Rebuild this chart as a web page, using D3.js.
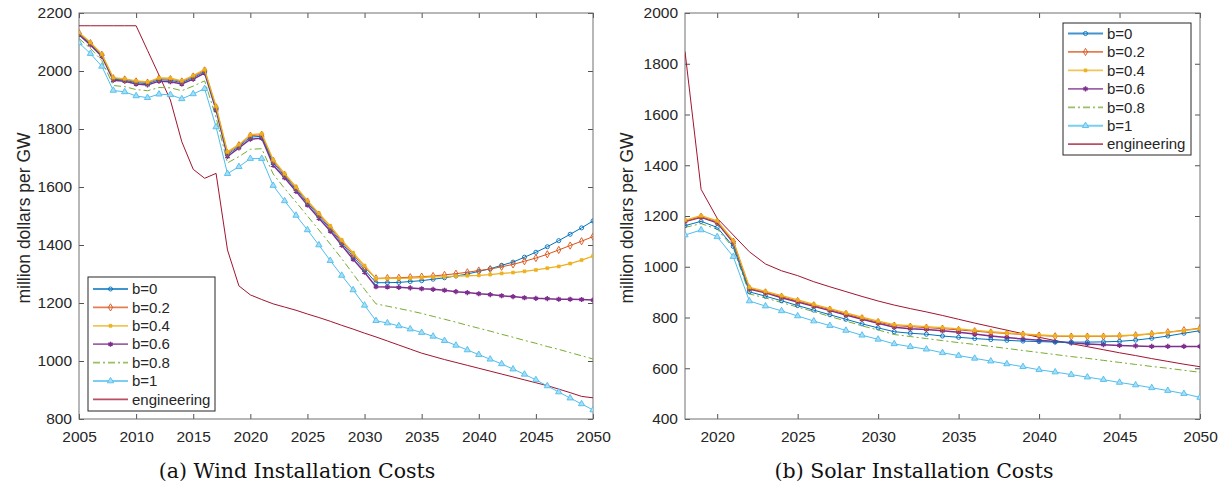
<!DOCTYPE html>
<html><head><meta charset="utf-8">
<script src="https://cdn.jsdelivr.net/npm/d3@7"></script>
<style>
body{margin:0;background:#fff;}
svg{display:block;}
.tick text{font-family:"Liberation Sans",Arial,sans-serif;font-size:15.5px;fill:#262626;}
</style></head><body>
<svg id="c" width="1229" height="491"></svg>
<script>
// ---------- DATA ----------
const seriesNames = ["b=0","b=0.2","b=0.4","b=0.6","b=0.8","b=1","engineering"];
const seriesColors = ["#0072BD","#D95319","#EDB120","#7E2F8E","#77AC30","#4DBEEE","#A2142F"];
const seriesMarkers = ["circle","diamond","square","asterisk","none","triangle","none"];

const windStart = 2005, windEnd = 2050;
const windXTicks = [2005,2010,2015,2020,2025,2030,2035,2040,2045,2050];
const windYTicks = [800,1000,1200,1400,1600,1800,2000,2200];

const windB0 = [2128,2094,2054,1972,1968,1960,1956,1970,1968,1960,1977,1998,1870,1712,1740,1772,1775,1684,1638,1592,1545,1500,1455,1407,1360,1315,
  1270,1270,1271,1274,1277,1282,1287,1293,1300,1309,1318,1330,1341,1358,1375,1394,1415,1437,1459,1483];
const windB02 = [2131,2096,2056,1975,1971,1964,1960,1974,1972,1964,1981,2002,1875,1717,1744,1777,1780,1690,1642,1596,1550,1505,1460,1412,1367,1322,
  1285,1286,1287,1289,1291,1293,1297,1301,1306,1312,1317,1325,1333,1344,1355,1368,1383,1398,1413,1429];
const windB04 = [2133,2098,2058,1977,1973,1966,1962,1976,1975,1966,1984,2005,1878,1721,1746,1780,1784,1694,1646,1600,1553,1509,1466,1417,1373,1329,
  1284,1285,1285,1286,1288,1290,1291,1293,1294,1295,1298,1302,1305,1309,1314,1320,1326,1336,1348,1362];
const windB06 = [2125,2090,2050,1968,1965,1955,1952,1965,1963,1955,1972,1993,1865,1705,1735,1765,1768,1675,1632,1585,1538,1492,1448,1399,1351,1306,
  1256,1255,1254,1252,1249,1247,1244,1239,1236,1232,1229,1225,1222,1218,1216,1215,1213,1213,1212,1210];
const windB08 = [2112,2078,2036,1950,1946,1936,1932,1943,1942,1932,1948,1966,1840,1683,1705,1730,1732,1645,1595,1548,1500,1452,1403,1353,1300,1247,
  1197,1189,1181,1173,1164,1154,1144,1134,1123,1113,1103,1092,1082,1071,1061,1050,1040,1029,1018,1007];
const windB1 = [2097,2060,2016,1933,1928,1914,1908,1920,1918,1904,1921,1939,1807,1646,1670,1698,1698,1605,1552,1502,1452,1400,1346,1295,1245,1192,
  1139,1131,1121,1110,1098,1085,1070,1054,1038,1022,1006,990,972,954,935,914,893,872,852,831];
const windEng = [2156,2156,2156,2156,2156,2156,2071,1986,1900,1756,1661,1630,1647,1383,1259,1228,1212,1197,1186,1175,1162,1150,1137,1123,1110,1096,
  1083,1069,1055,1041,1027,1016,1005,995,985,975,965,955,945,935,925,915,903,891,878,873];

const solarStart = 2018, solarEnd = 2050;
const solarXTicks = [2020,2025,2030,2035,2040,2045,2050];
const solarYTicks = [400,600,800,1000,1200,1400,1600,1800,2000];

const solarB0 = [1162,1179,1155,1080,901,884,866,847,829,811,793,775,759,744,738,734,727,722,717,713,710,707,705,703,703,703,704,706,711,718,727,738,748];
const solarB02 = [1180,1197,1177,1099,915,899,882,865,848,831,814,797,782,768,764,760,756,751,746,741,737,733,729,726,725,725,725,727,730,735,742,750,758];
const solarB04 = [1184,1201,1181,1103,919,903,886,869,852,835,818,801,786,772,768,764,760,755,749,744,739,735,731,728,727,727,727,728,731,736,741,748,756];
const solarB06 = [1178,1195,1173,1095,912,897,878,861,844,827,810,793,777,762,756,753,748,742,735,727,721,715,710,705,700,696,693,690,688,686,686,686,686];
const solarB08 = [1155,1170,1148,1075,893,877,859,841,823,804,786,767,751,733,725,717,709,701,694,686,678,670,662,654,646,639,631,623,615,607,600,592,584];
const solarB1 = [1125,1145,1118,1040,865,845,826,806,786,768,749,730,714,696,685,675,661,650,639,628,617,606,594,585,575,565,555,544,534,523,512,500,485];
const solarEng = [1848,1305,1191,1125,1059,1011,984,965,941,921,902,883,865,849,835,822,808,793,778,764,750,736,722,709,697,685,673,661,650,638,627,616,606];

const windSeries = [windB0,windB02,windB04,windB06,windB08,windB1,windEng];
const solarSeries = [solarB0,solarB02,solarB04,solarB06,solarB08,solarB1,solarEng];

// ---------- DRAW ----------
const svg = d3.select("#c");
const symMap = {circle:d3.symbolCircle, diamond:d3.symbolDiamond, square:d3.symbolSquare, asterisk:d3.symbolAsterisk, triangle:d3.symbolTriangle};
const symSize = {circle:13, diamond:15, square:9, asterisk:18, triangle:17};

function drawMarker(g, type, color, x, y){
  if(type==="none") return;
  const p = g.append("path").attr("transform",`translate(${x},${y})`)
    .attr("d", d3.symbol().type(symMap[type]).size(symSize[type])());
  if(type==="square"){ p.attr("fill",color).attr("stroke",color).attr("stroke-width",0.6); }
  else if(type==="asterisk"){ p.attr("fill","none").attr("stroke",color).attr("stroke-width",1.5); }
  else if(type==="triangle"){ p.attr("fill","#a8ddf5").attr("stroke",color).attr("stroke-width",0.9); }
  else { p.attr("fill","none").attr("stroke",color).attr("stroke-width",0.9); }
}

function panel(opt){
  const x = d3.scaleLinear().domain(opt.xDomain).range(opt.xRange);
  const y = d3.scaleLinear().domain(opt.yDomain).range([419,13]);
  const g = svg.append("g");
  const [x0,x1] = opt.xRange;
  // axes
  const axB = g.append("g").attr("transform","translate(0,419)")
    .call(d3.axisBottom(x).tickValues(opt.xTicks).tickFormat(d3.format("d")).tickSize(-5).tickPadding(12));
  const axT = g.append("g").attr("transform","translate(0,13)")
    .call(d3.axisTop(x).tickValues(opt.xTicks).tickFormat("").tickSize(-5));
  const axL = g.append("g").attr("transform",`translate(${x0},0)`)
    .call(d3.axisLeft(y).tickValues(opt.yTicks).tickFormat(d3.format("d")).tickSize(-5).tickPadding(7));
  const axR = g.append("g").attr("transform",`translate(${x1},0)`)
    .call(d3.axisRight(y).tickValues(opt.yTicks).tickFormat("").tickSize(-5));
  [axB,axT,axL,axR].forEach(a=>{ a.select(".domain").remove(); a.selectAll(".tick line").attr("stroke","#262626").attr("stroke-width",0.8); });
  g.append("rect").attr("x",x0).attr("y",13).attr("width",x1-x0).attr("height",406)
    .attr("fill","none").attr("stroke","#707070").attr("stroke-width",1);

  // y label
  g.append("text").attr("transform",`translate(${opt.yLabelX},${opt.yLabelY}) rotate(-90)`)
    .attr("text-anchor","middle").attr("font-family","Liberation Sans, Arial, sans-serif")
    .attr("font-size","17.5px").attr("fill","#262626").text("million dollars per GW");
  // caption
  g.append("text").attr("x",opt.capX).attr("y",478).attr("text-anchor","middle")
    .attr("font-family","DejaVu Serif, serif").attr("font-size","20.5px").attr("fill","#111").text(opt.caption);

  const clip = "clip"+opt.id;
  g.append("clipPath").attr("id",clip).append("rect").attr("x",x0).attr("y",13).attr("width",x1-x0).attr("height",406);
  const plot = g.append("g").attr("clip-path",`url(#${clip})`);
  const years = d3.range(opt.xDomain[0], opt.xDomain[1]+1);
  const order = [6,5,4,3,0,1,2];
  order.forEach(i=>{
    const data = opt.series[i];
    const line = d3.line().x((d,k)=>x(years[k])).y(d=>y(d));
    plot.append("path").attr("d",line(data)).attr("fill","none")
      .attr("stroke",seriesColors[i])
      .attr("stroke-width", i===3?1.5:(i===2?1.3:1))
      .attr("stroke-dasharray", i===4?"7,3,2,3":null);
    const mg = plot.append("g");
    data.forEach((d,k)=>drawMarker(mg, seriesMarkers[i], seriesColors[i], x(years[k]), y(d)));
  });

  // legend
  const L = opt.legend;
  const lg = g.append("g");
  lg.append("rect").attr("x",L.x).attr("y",L.y).attr("width",L.w).attr("height",L.h)
    .attr("fill","#fff").attr("stroke","#262626").attr("stroke-width",1);
  seriesNames.forEach((n,i)=>{
    const cy = L.y + L.first + i*L.step;
    lg.append("line").attr("x1",L.x+5).attr("x2",L.x+40).attr("y1",cy).attr("y2",cy)
      .attr("stroke",seriesColors[i]).attr("stroke-width",1.8).attr("stroke-opacity",0.75)
      .attr("stroke-dasharray", i===4?"7,3,2,3":null);
    drawMarker(lg, seriesMarkers[i], seriesColors[i], L.x+22.5, cy);
    lg.append("text").attr("x",L.x+44).attr("y",cy).attr("dy","0.35em")
      .attr("font-family","Liberation Sans, Arial, sans-serif").attr("font-size","15px")
      .attr("fill","#262626").text(n);
  });
}

panel({id:"w", xDomain:[windStart,windEnd], xRange:[79,593], yDomain:[800,2200],
  xTicks:windXTicks, yTicks:windYTicks, series:windSeries,
  yLabelX:30, yLabelY:218, caption:"(a) Wind Installation Costs", capX:297,
  legend:{x:88,y:277,w:127,h:134,first:12,step:18.4}});
panel({id:"s", xDomain:[solarStart,solarEnd], xRange:[685,1200], yDomain:[400,2000],
  xTicks:solarXTicks, yTicks:solarYTicks, series:solarSeries,
  yLabelX:633, yLabelY:218, caption:"(b) Solar Installation Costs", capX:914,
  legend:{x:1063,y:23,w:128,h:132,first:10.5,step:18.45}});
</script></body></html>
